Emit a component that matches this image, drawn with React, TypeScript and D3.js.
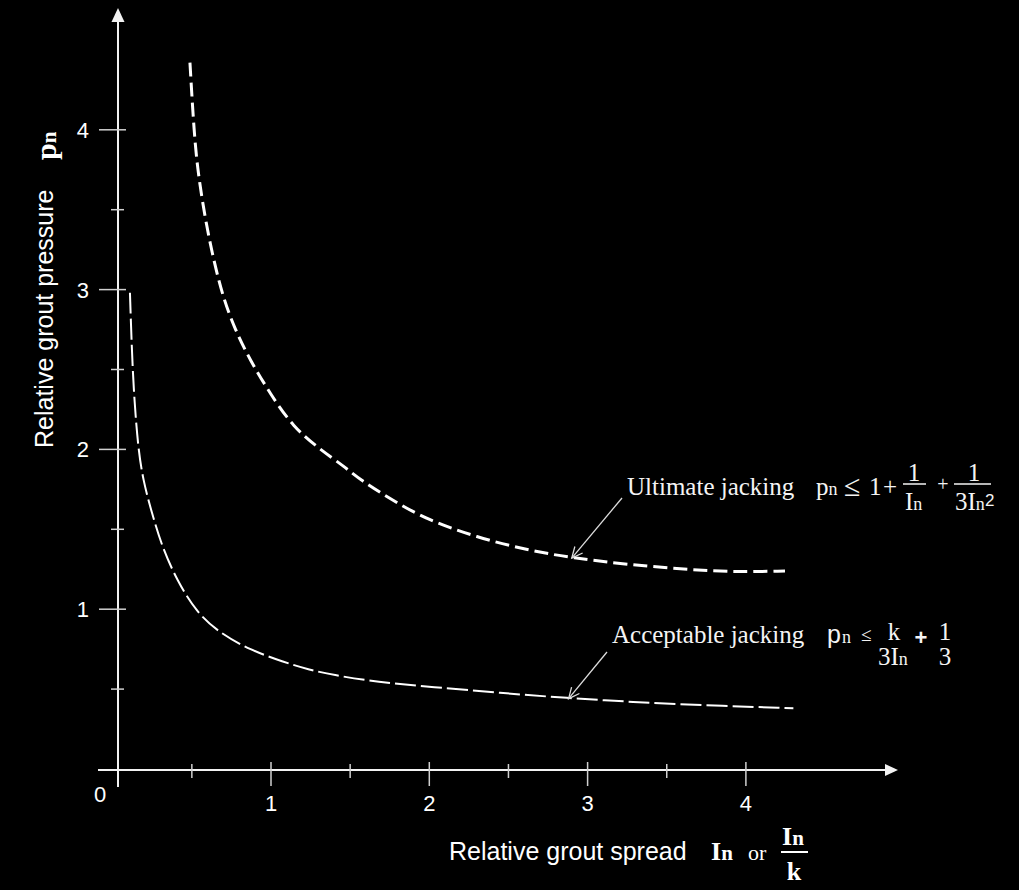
import React from "react";
import * as d3 from "d3";

const ultimateSpread = [0.488, 0.514, 0.539, 0.583, 0.634, 0.697, 0.773, 0.867, 0.994, 1.139, 1.31, 1.467, 1.562, 1.77, 1.985, 2.3, 2.617, 2.908, 3.249, 3.666, 3.963, 4.247];
const ultimatePressure = [4.42, 3.98, 3.73, 3.45, 3.2, 2.95, 2.75, 2.56, 2.35, 2.14, 2.0, 1.89, 1.81, 1.68, 1.56, 1.45, 1.37, 1.32, 1.28, 1.245, 1.233, 1.239];
const acceptableSpread = [0.109, 0.12, 0.135, 0.16, 0.191, 0.248, 0.312, 0.406, 0.532, 0.678, 0.868, 1.076, 1.246, 1.392, 1.67, 2.02, 2.446, 2.87, 3.287, 3.71, 4.3];
const acceptablePressure = [2.98, 2.64, 2.33, 2.015, 1.81, 1.6, 1.39, 1.18, 0.976, 0.85, 0.745, 0.67, 0.62, 0.588, 0.544, 0.513, 0.476, 0.444, 0.419, 0.4, 0.38];
const xMajorTicks = [1, 2, 3, 4];
const xMinorTicks = [0.5, 1.5, 2.5, 3.5];
const yMajorTicks = [1, 2, 3, 4];
const yMinorTicks = [0.5, 1.5, 2.5, 3.5];
const ultimateArrowAt = [2.9, 1.32];
const acceptableArrowAt = [2.88, 0.44];

const W = 1019;
const H = 890;
const SANS = "'Liberation Sans', Arial, sans-serif";
const SERIF = "'Liberation Serif', 'Times New Roman', serif";
const AX = "#f2f2f2";
const TK = "#d0d0d0";

export default function App() {
  const x = d3.scaleLinear().domain([0, 1]).range([112.7, 271]);
  const y = d3.scaleLinear().domain([0, 1]).range([769, 609.2]);
  const axisX = 118;
  const axisY = 770;

  const line = d3
    .line<[number, number]>()
    .x((d) => x(d[0]))
    .y((d) => y(d[1]))
    .curve(d3.curveBasis);

  const ult = ultimateSpread.map((s, i) => [s, ultimatePressure[i]] as [number, number]);
  const acc = acceptableSpread.map((s, i) => [s, acceptablePressure[i]] as [number, number]);

  const arrow = (tx: number, ty: number, fx: number, fy: number) => {
    const ang = Math.atan2(ty - fy, tx - fx);
    const L = 12;
    const a = (25 * Math.PI) / 180;
    const p1 = [tx - L * Math.cos(ang - a), ty - L * Math.sin(ang - a)];
    const p2 = [tx - L * Math.cos(ang + a), ty - L * Math.sin(ang + a)];
    return (
      <g stroke="#dddddd" strokeWidth={1.3} fill="none">
        <line x1={fx} y1={fy} x2={tx} y2={ty} />
        <path d={`M${p1[0]},${p1[1]} L${tx},${ty} L${p2[0]},${p2[1]}`} />
      </g>
    );
  };

  const ua = [x(ultimateArrowAt[0]), y(ultimateArrowAt[1])];
  const aa = [x(acceptableArrowAt[0]), y(acceptableArrowAt[1])];

  return (
    <svg
      width={W}
      height={H}
      style={{ position: "absolute", left: 0, top: 0, display: "block", background: "#000" }}
    >
      <rect x={0} y={0} width={W} height={H} fill="#000" />

      {/* axes */}
      <line x1={axisX} y1={787} x2={axisX} y2={20} stroke={AX} strokeWidth={2} />
      <path d={`M${axisX},8 L${axisX - 6.5},22 L${axisX + 6.5},22 Z`} fill={AX} />
      <line x1={98} y1={axisY} x2={886} y2={axisY} stroke={AX} strokeWidth={2.2} />
      <path d={`M898,${axisY} L885,${axisY - 6} L885,${axisY + 6} Z`} fill={AX} />

      {/* ticks */}
      {yMajorTicks.map((t) => (
        <line key={"ym" + t} x1={99} x2={126} y1={y(t)} y2={y(t)} stroke={TK} strokeWidth={1.5} />
      ))}
      {yMinorTicks.map((t) => (
        <line key={"yn" + t} x1={111} x2={124} y1={y(t)} y2={y(t)} stroke={TK} strokeWidth={1.5} />
      ))}
      {xMajorTicks.map((t) => (
        <line key={"xm" + t} x1={x(t)} x2={x(t)} y1={762} y2={786} stroke={TK} strokeWidth={1.5} />
      ))}
      {xMinorTicks.map((t) => (
        <line key={"xn" + t} x1={x(t)} x2={x(t)} y1={764} y2={778} stroke={TK} strokeWidth={1.5} />
      ))}

      {/* tick labels */}
      {yMajorTicks.map((t) => (
        <text key={"yl" + t} x={89} y={y(t) + 8} fill="#fff" fontFamily={SANS} fontSize={22} textAnchor="end">
          {t}
        </text>
      ))}
      {xMajorTicks.map((t) => (
        <text key={"xl" + t} x={x(t)} y={811} fill="#fff" fontFamily={SANS} fontSize={22} textAnchor="middle">
          {t}
        </text>
      ))}
      <text x={100} y={802} fill="#fff" fontFamily={SANS} fontSize={22} textAnchor="middle">
        0
      </text>

      {/* curves */}
      <path d={line(ult) || ""} fill="none" stroke="#fff" strokeWidth={3} strokeDasharray="14 6" />
      <path d={line(acc) || ""} fill="none" stroke="#fff" strokeWidth={2} strokeDasharray="21 5" />

      {/* annotation arrows */}
      {arrow(ua[0], ua[1], 622, 498)}
      {arrow(aa[0], aa[1], 607, 652)}

      {/* Ultimate jacking label */}
      <g fill="#f4f4f4" fontFamily={SERIF}>
        <text x={627} y={495} fontSize={25}>Ultimate jacking</text>
        <text x={816} y={495} fontSize={25}>
          p<tspan fontSize={18}>n</tspan>
        </text>
        <text x={844} y={496} fontSize={30}>≤</text>
        <text x={869} y={495} fontSize={25}>1</text>
        <text x={890} y={495} fontSize={25} textAnchor="middle">+</text>
        <text x={914} y={481} fontSize={25} textAnchor="middle">1</text>
        <line x1={903} x2={926} y1={484} y2={484} stroke="#f4f4f4" strokeWidth={1.5} />
        <text x={905} y={510} fontSize={25}>
          I<tspan fontSize={18}>n</tspan>
        </text>
        <text x={943} y={491} fontSize={20} textAnchor="middle">+</text>
        <text x={974} y={481} fontSize={25} textAnchor="middle">1</text>
        <line x1={954} x2={991} y1={484} y2={484} stroke="#f4f4f4" strokeWidth={1.5} />
        <text x={955} y={510} fontSize={25}>
          3I<tspan fontSize={18}>n</tspan>
        </text>
        <text x={985} y={506} fontSize={17} fontFamily={SANS}>2</text>
      </g>

      {/* Acceptable jacking label */}
      <g fill="#f4f4f4" fontFamily={SERIF}>
        <text x={612} y={643} fontSize={25}>Acceptable jacking</text>
        <text x={827} y={643} fontSize={25} fontFamily={SANS}>
          p
        </text>
        <text x={842} y={643} fontSize={18}>n</text>
        <text x={861} y={641} fontSize={19}>≤</text>
        <text x={894} y={640} fontSize={25} textAnchor="middle">k</text>
        <text x={878} y={665} fontSize={25}>
          3I<tspan fontSize={18}>n</tspan>
        </text>
        <text x={921} y={645} fontSize={22} fontFamily={SANS} fontWeight="bold" textAnchor="middle">+</text>
        <text x={945} y={640} fontSize={25} textAnchor="middle">1</text>
        <text x={945} y={665} fontSize={25} textAnchor="middle">3</text>
      </g>

      {/* x axis title */}
      <g fill="#fff">
        <text x={449} y={860} fontFamily={SANS} fontSize={25}>Relative grout spread</text>
        <text x={711} y={860} fontFamily={SERIF} fontSize={26} fontWeight="bold">
          I<tspan fontSize={21}>n</tspan>
        </text>
        <text x={748} y={860} fontFamily={SERIF} fontSize={22}>or</text>
        <text x={782} y={845} fontFamily={SERIF} fontSize={26} fontWeight="bold">
          I<tspan fontSize={21}>n</tspan>
        </text>
        <line x1={781} x2={808} y1={852} y2={852} stroke="#fff" strokeWidth={2} />
        <text x={794} y={880} fontFamily={SERIF} fontSize={26} fontWeight="bold" textAnchor="middle">k</text>
      </g>

      {/* y axis title */}
      <g fill="#fff">
        <text transform="translate(53,448) rotate(-90)" fontFamily={SANS} fontSize={25}>
          Relative grout pressure
        </text>
        <text transform="translate(56,160) rotate(-90)" fontFamily={SERIF} fontSize={30} fontWeight="bold">
          p<tspan fontSize={21}>n</tspan>
        </text>
      </g>
    </svg>
  );
}
